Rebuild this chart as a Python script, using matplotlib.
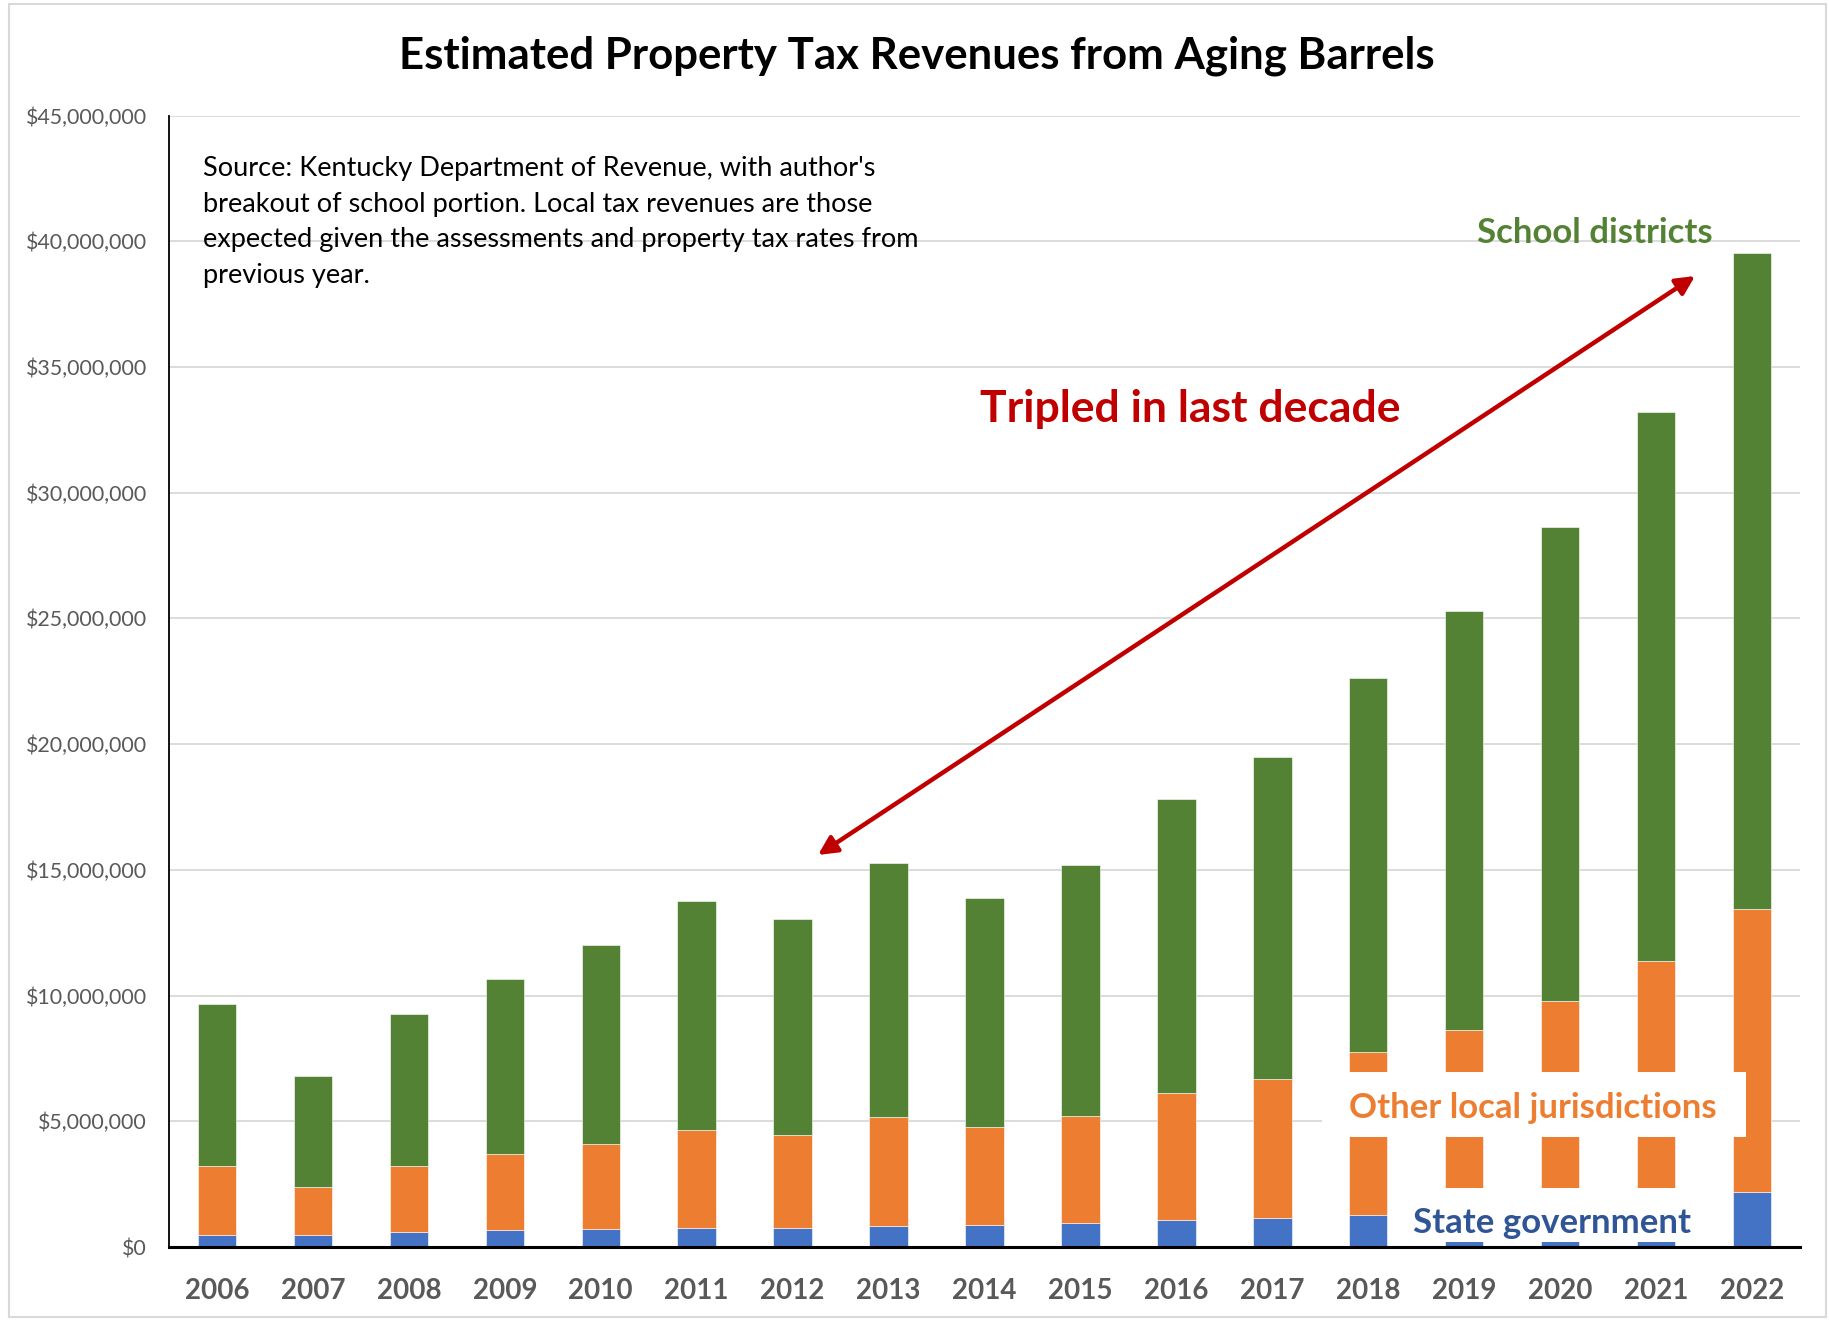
import matplotlib
matplotlib.use("Agg")
import matplotlib.pyplot as plt
from matplotlib.patches import Rectangle
from matplotlib.ticker import FuncFormatter, MultipleLocator

years = ["2006", "2007", "2008", "2009", "2010", "2011", "2012", "2013", "2014",
         "2015", "2016", "2017", "2018", "2019", "2020", "2021", "2022"]

# values in $ millions (cumulative tops converted to layers)
state_gov = [0.46, 0.49, 0.61, 0.66, 0.70, 0.74, 0.77, 0.84, 0.86,
             0.94, 1.07, 1.14, 1.27, 1.45, 1.58, 1.75, 2.19]
local_top = [3.22, 2.39, 3.21, 3.69, 4.11, 4.67, 4.45, 5.17, 4.77,
             5.22, 6.11, 6.68, 7.74, 8.65, 9.79, 11.37, 13.46]
total_top = [9.65, 6.80, 9.27, 10.66, 12.01, 13.78, 13.03, 15.26, 13.87,
             15.18, 17.81, 19.48, 22.63, 25.31, 28.63, 33.21, 39.52]

M = 1_000_000
state = [v * M for v in state_gov]
other = [(l - s) * M for l, s in zip(local_top, state_gov)]
school = [(t - l) * M for t, l in zip(total_top, local_top)]

BLUE = "#4472C4"
ORANGE = "#ED7D31"
GREEN = "#548235"
GRAY = "#595959"
FONT = "Lato"

W, H = 1829, 1320
fig = plt.figure(figsize=(W / 100, H / 100), dpi=100)

def px(x, y):
    # figure pixel -> figure fraction (y from top)
    return x / W, 1 - y / H

ax = fig.add_axes([169 / W, 1 - 1247 / H, (1800 - 169) / W, (1247 - 115.5) / H])

x = range(len(years))
bw = 0.40
ax.bar(x, state, bw, color=BLUE, edgecolor="white", linewidth=0.4, zorder=2)
ax.bar(x, other, bw, bottom=state, color=ORANGE, edgecolor="white", linewidth=0.4, zorder=2)
ax.bar(x, school, bw, bottom=[s + o for s, o in zip(state, other)],
       color=GREEN, edgecolor="white", linewidth=0.4, zorder=2)

ax.set_xlim(-0.5, len(years) - 0.5)
ax.set_ylim(0, 45 * M)
ax.yaxis.set_major_locator(MultipleLocator(5 * M))
ax.yaxis.set_major_formatter(FuncFormatter(lambda v, p: "${:,.0f}".format(v)))
ax.set_xticks(list(x))
ax.set_xticklabels(years)
ax.grid(axis="y", color="#D9D9D9", linewidth=1.3, zorder=0)
ax.set_axisbelow(True)
ax.tick_params(length=0)
ax.tick_params(axis="y", pad=16, labelcolor=GRAY, labelsize=15.4)
ax.tick_params(axis="x", pad=22, labelcolor=GRAY, labelsize=20)
for t in ax.get_yticklabels():
    t.set_fontfamily(FONT)
for t in ax.get_xticklabels():
    t.set_fontfamily(FONT)
    t.set_fontweight("bold")

for s in ["top", "right"]:
    ax.spines[s].set_visible(False)
ax.spines["left"].set_linewidth(1.3)
ax.spines["bottom"].set_linewidth(2.2)

# chart area border
fig.patches.append(Rectangle(px(9, 1317), (1826 - 9) / W, (1317 - 4) / H,
                             transform=fig.transFigure, fill=False,
                             edgecolor="#D9D9D9", linewidth=1.5))

fig.text(*px(917, 56), "Estimated Property Tax Revenues from Aging Barrels",
         ha="center", va="center", fontsize=31.5, fontweight="bold", family=FONT)

fig.text(*px(203, 156),
         "Source: Kentucky Department of Revenue, with author's\n"
         "breakout of school portion. Local tax revenues are those\n"
         "expected given the assessments and property tax rates from\n"
         "previous year.",
         ha="left", va="top", fontsize=19.5, family=FONT, linespacing=1.53)

fig.text(*px(1190, 409), "Tripled in last decade", ha="center", va="center",
         fontsize=32, fontweight="bold", color="#C00000", family=FONT)
fig.text(*px(1595, 233), "School districts", ha="center", va="center",
         fontsize=25, fontweight="bold", color=GREEN, family=FONT)

# white label boxes over the bars
for (x0, y0, x1, y1) in [(1322, 1072, 1746, 1137), (1400, 1188, 1705, 1242)]:
    ax.add_patch(Rectangle(px(x0, y1), (x1 - x0) / W, (y1 - y0) / H,
                           transform=fig.transFigure, facecolor="white",
                           edgecolor="none", zorder=3, clip_on=False))
fig.text(*px(1533, 1108), "Other local jurisdictions", ha="center", va="center",
         fontsize=25, fontweight="bold", color=ORANGE, family=FONT, zorder=5)
fig.text(*px(1552, 1223), "State government", ha="center", va="center",
         fontsize=25, fontweight="bold", color="#2F5597", family=FONT, zorder=5)

ax.annotate("", xy=px(1695, 276), xytext=px(818, 855),
            xycoords="figure fraction", textcoords="figure fraction",
            arrowprops=dict(arrowstyle="<|-|>", color="#C00000", lw=3.2,
                            mutation_scale=28, shrinkA=0, shrinkB=0))

fig.savefig("out.png", dpi=100)
